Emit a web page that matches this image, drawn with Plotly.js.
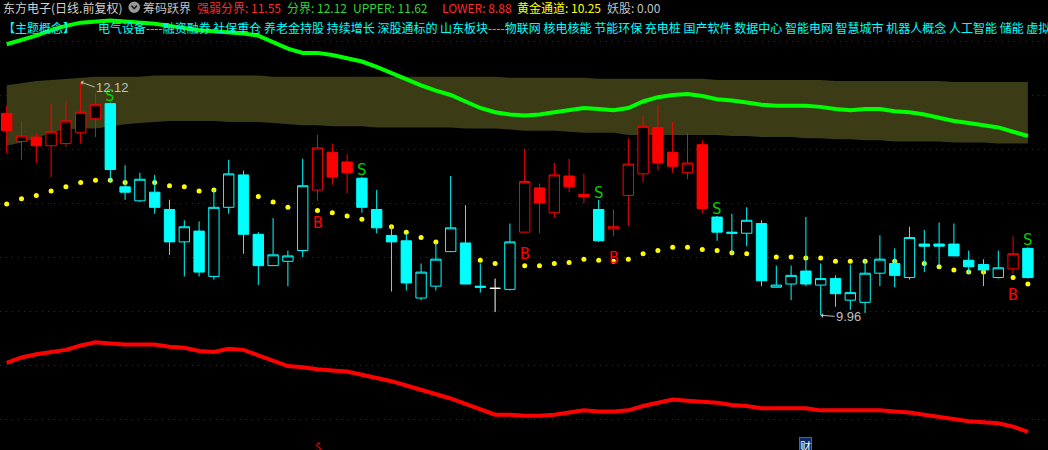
<!DOCTYPE html>
<html><head><meta charset="utf-8">
<script src="https://cdn.plot.ly/plotly-3.0.1.min.js"></script>
<style>html,body{margin:0;padding:0;background:#000;overflow:hidden}#chart{width:1048px;height:450px}</style>
</head><body><div id="chart"></div>
<script>
// ---- data ----
const openP = [11.83,11.57,11.61,11.53,11.55,11.65,11.78,11.92,11.15,11.02,
  11.10,10.94,10.64,10.74,10.32,10.96,11.26,10.71,10.42,10.46,
  10.56,11.12,11.47,11.38,11.23,10.94,10.70,10.65,10.12,10.23,
  10.55,10.63,10.23,10.21,10.20,10.73,11.14,10.91,11.25,11.08,
  10.94,10.76,11.07,11.27,11.70,11.47,11.28,11.54,10.87,10.73,
  10.72,10.81,10.22,10.25,10.37,10.24,10.30,10.10,10.08,10.35,
  10.44,10.31,10.62,10.62,10.62,10.47,10.43,10.31,10.39,10.58];
const highP = [11.90,11.76,11.64,11.92,11.94,12.12,12.02,11.93,11.35,11.28,
  11.26,11.03,10.84,10.83,11.12,11.40,11.30,10.73,10.86,10.56,
  11.41,11.63,11.55,11.45,11.24,11.12,10.79,10.72,10.44,10.63,
  11.25,10.98,10.44,10.30,10.81,11.50,11.18,11.37,11.41,11.27,
  11.03,10.94,11.60,11.81,11.91,11.75,11.65,11.58,10.88,10.90,
  10.96,10.84,10.42,10.42,10.87,10.44,10.33,10.43,10.47,10.70,
  10.58,10.78,10.75,10.82,10.81,10.56,10.48,10.56,10.69,10.59];
const lowP = [11.46,11.40,11.37,11.24,11.52,11.55,11.61,11.20,11.03,11.01,
  10.90,10.52,10.32,10.32,10.29,10.90,10.53,10.24,10.42,10.23,
  10.50,11.02,11.17,11.09,10.91,10.72,10.18,10.19,10.10,10.19,
  10.55,10.25,10.17,9.99,10.19,10.73,10.72,10.86,11.10,11.00,
  10.64,10.69,10.79,11.19,11.30,11.28,11.22,10.90,10.65,10.53,
  10.60,10.23,10.22,10.10,10.23,9.96,10.04,10.01,9.98,10.23,
  10.22,10.29,10.36,10.41,10.51,10.35,10.23,10.30,10.35,10.30];
const closeP = [11.67,11.62,11.53,11.66,11.76,11.84,11.91,11.31,11.10,11.22,
  10.96,10.64,10.78,10.36,10.96,11.27,10.71,10.42,10.52,10.51,
  11.16,11.51,11.24,11.28,10.96,10.77,10.64,10.26,10.36,10.48,
  10.77,10.25,10.22,10.21,10.64,11.20,11.00,11.26,11.15,11.06,
  10.65,10.78,11.36,11.71,11.37,11.34,11.37,10.95,10.73,10.72,
  10.84,10.28,10.24,10.33,10.25,10.30,10.16,10.17,10.35,10.48,
  10.33,10.68,10.60,10.60,10.51,10.41,10.38,10.40,10.53,10.31];
const goldLine = [10.99,11.04,11.07,11.11,11.15,11.19,11.21,11.21,11.19,11.19,
  11.19,11.16,11.15,11.11,11.12,11.10,11.08,11.06,11.01,10.96,
  10.94,10.93,10.91,10.88,10.85,10.82,10.78,10.73,10.68,10.64,
  10.58,10.53,10.47,10.44,10.43,10.42,10.42,10.44,10.45,10.48,
  10.47,10.46,10.48,10.53,10.56,10.59,10.59,10.57,10.56,10.54,
  10.53,10.51,10.50,10.50,10.49,10.49,10.46,10.46,10.46,10.46,
  10.46,10.45,10.44,10.41,10.38,10.36,10.36,10.33,10.31,10.25];
const upperLine = [12.47,12.51,12.55,12.60,12.64,12.67,12.68,12.69,12.68,12.67,
  12.66,12.64,12.62,12.60,12.59,12.58,12.57,12.55,12.49,12.43,
  12.39,12.39,12.37,12.34,12.31,12.26,12.20,12.14,12.09,12.04,
  12.00,11.94,11.88,11.84,11.82,11.81,11.82,11.84,11.86,11.88,
  11.87,11.86,11.88,11.94,11.98,12.00,12.01,11.99,11.96,11.95,
  11.93,11.91,11.90,11.90,11.90,11.89,11.87,11.86,11.87,11.87,
  11.85,11.84,11.82,11.79,11.76,11.74,11.72,11.70,11.66,11.62];
const lowerLine = [9.52,9.57,9.60,9.62,9.64,9.68,9.71,9.70,9.69,9.69,
  9.69,9.67,9.66,9.63,9.62,9.65,9.64,9.59,9.54,9.49,
  9.48,9.46,9.45,9.44,9.41,9.38,9.35,9.31,9.27,9.23,
  9.19,9.14,9.09,9.04,9.04,9.03,9.03,9.04,9.06,9.08,
  9.07,9.07,9.08,9.12,9.15,9.18,9.17,9.16,9.15,9.13,
  9.12,9.10,9.10,9.10,9.10,9.08,9.08,9.08,9.08,9.08,
  9.07,9.06,9.04,9.02,9.00,8.98,8.97,8.96,8.93,8.88];
const bandTop = [12.09,12.11,12.13,12.14,12.15,12.16,12.17,12.17,12.17,12.17,
  12.18,12.18,12.18,12.18,12.18,12.18,12.18,12.18,12.17,12.17,
  12.17,12.17,12.17,12.17,12.17,12.17,12.17,12.17,12.17,12.17,
  12.17,12.17,12.17,12.17,12.16,12.16,12.16,12.16,12.16,12.16,
  12.15,12.15,12.15,12.15,12.15,12.15,12.15,12.15,12.14,12.14,
  12.14,12.14,12.14,12.14,12.14,12.14,12.13,12.13,12.13,12.13,
  12.13,12.13,12.13,12.13,12.12,12.12,12.12,12.12,12.12,12.12];
const bandBottom = [11.53,11.56,11.60,11.65,11.68,11.69,11.69,11.71,11.73,11.74,
  11.75,11.76,11.76,11.76,11.76,11.75,11.75,11.75,11.74,11.73,
  11.72,11.72,11.71,11.71,11.71,11.70,11.70,11.70,11.70,11.70,
  11.70,11.69,11.69,11.69,11.68,11.67,11.67,11.67,11.66,11.65,
  11.65,11.65,11.63,11.63,11.63,11.63,11.63,11.63,11.63,11.62,
  11.62,11.61,11.61,11.61,11.60,11.60,11.59,11.59,11.58,11.58,
  11.57,11.57,11.57,11.57,11.56,11.56,11.56,11.55,11.55,11.55];
const buyIdx = [21, 35, 41, 68];
const sellIdx = [7, 24, 40, 48, 69];
const eventIdx = [21, 54];
const eventText = ['$', '财'];
const demonValue = 0.00;
const stockTitle = '东方电子(日线.前复权)';
const indicatorName = '筹码跃界';
const conceptTag = '【主题概念】';
const concepts = '电气设备----融资融券 社保重仓 养老金持股 持续增长 深股通标的 山东板块----物联网 核电核能 节能环保 充电桩 国产软件 数据中心 智能电网 智慧城市 机器人概念 人工智能 储能 虚拟电厂';

// ---- build ----
const n = openP.length;
const idx = openP.map((_, i) => i);
const state = [];
let cur = 'red';
for (let i = 0; i < n; i++) {
  if (buyIdx.includes(i)) cur = 'red';
  if (sellIdx.includes(i)) cur = 'cyan';
  state.push(cur);
}
const RED = '#ff0000', CYAN = '#00ffff', WHITE = '#ffffff';
function pick(arr, sel) { return sel.map(i => arr[i]); }
function candle(sel, col, incFill, decFill) {
  return {
    type: 'candlestick', xaxis: 'x', yaxis: 'y2',
    x: sel, open: pick(openP, sel), high: pick(highP, sel), low: pick(lowP, sel), close: pick(closeP, sel),
    increasing: {line: {color: col, width: 1}, fillcolor: incFill},
    decreasing: {line: {color: col, width: 1}, fillcolor: decFill},
    whiskerwidth: 0, hoverinfo: 'skip', showlegend: false
  };
}
const redSel = idx.filter(i => state[i] === 'red' && openP[i] !== closeP[i]);
const cyanSel = idx.filter(i => state[i] === 'cyan' && openP[i] !== closeP[i]);
const flatSel = idx.filter(i => openP[i] === closeP[i]);

const traces = [
  {x: idx, y: bandBottom, mode: 'lines', line: {width: 0, color: 'rgba(0,0,0,0)'}, hoverinfo: 'skip'},
  {x: idx, y: bandTop, mode: 'lines', line: {width: 0, color: 'rgba(0,0,0,0)'}, fill: 'tonexty', fillcolor: '#3b3b16', hoverinfo: 'skip'},
  {x: idx, y: lowerLine, mode: 'lines', line: {width: 4, color: '#ff0000'}, hoverinfo: 'skip'},
  {x: idx, y: upperLine, mode: 'lines', line: {width: 4, color: '#00ff00'}, hoverinfo: 'skip'},
  {x: idx, y: goldLine, mode: 'markers', marker: {size: 5, color: '#ffff00'}, hoverinfo: 'skip'},
  candle(redSel, RED, '#000000', RED),
  candle(cyanSel, CYAN, '#000000', CYAN),
  candle(flatSel, WHITE, WHITE, WHITE)
];

const W = 1048, H = 450;
const px = x => x / W, py = y => 1 - y / H;
const hdrFont = (c) => ({family: 'Noto Sans CJK SC', size: 12, color: c});
function hdr(x, y, text, color) {
  return {xref: 'paper', yref: 'paper', x: px(x), y: py(y), xanchor: 'left', yanchor: 'middle',
    text: text, showarrow: false, font: hdrFont(color), borderpad: 0};
}
const last = n - 1;
const annotations = [
  hdr(2, 7.5, stockTitle, '#d0d0d0'),
  hdr(142, 7.5, indicatorName, '#c0c0c0'),
  hdr(196, 7.5, '强弱分界: ' + bandBottom[last].toFixed(2), '#ff2a2a'),
  hdr(286, 7.5, '分界: ' + bandTop[last].toFixed(2), '#30d830'),
  hdr(352, 7.5, 'UPPER: ' + upperLine[last].toFixed(2), '#30d830'),
  hdr(441, 7.5, 'LOWER: ' + lowerLine[last].toFixed(2), '#ff2a2a'),
  hdr(516, 7.5, '黄金通道: ' + goldLine[last].toFixed(2), '#ffff00'),
  hdr(606, 7.5, '妖股: ' + demonValue.toFixed(2), '#c0c0c0'),
  hdr(2, 27, conceptTag, '#00ffff'),
  hdr(97, 27, concepts, '#00ffff')
];
sellIdx.forEach(i => annotations.push({x: i, y: highP[i], xref: 'x', yref: 'y', text: 'S', showarrow: false,
  yanchor: 'bottom', yshift: -4, font: {family: 'DejaVu Sans Mono', size: 16, color: '#00d000'}}));
buyIdx.forEach(i => annotations.push({x: i, y: lowP[i], xref: 'x', yref: 'y', text: 'B', showarrow: false,
  yanchor: 'top', yshift: -10, font: {family: 'DejaVu Sans Mono', size: 16, color: '#ff0000'}}));
const maxH = Math.max(...highP), iMax = highP.indexOf(maxH);
const minL = Math.min(...lowP), iMin = lowP.indexOf(minL);
[[iMax, maxH, 14, 5], [iMin, minL, 14, 1]].forEach(([i, v, ax, ay]) => annotations.push({
  x: i, y: v, xref: 'x', yref: 'y', text: v.toFixed(2), showarrow: true, ax: ax, ay: ay,
  xanchor: 'left', yanchor: 'middle', arrowhead: 1, arrowsize: 0.8, arrowwidth: 1, arrowcolor: '#c0c0c0',
  standoff: 0, font: {family: 'Liberation Sans', size: 13, color: '#c0c0c0'}, borderpad: 0}));
eventIdx.forEach((i, k) => annotations.push({
  x: i, xref: 'x', yref: 'paper', y: py(437), yanchor: 'top', text: eventText[k], showarrow: false,
  font: {family: 'Noto Sans CJK SC', size: 11, color: eventText[k] === '$' ? '#ff0000' : '#ffffff'},
  bgcolor: eventText[k] === '$' ? 'rgba(0,0,0,0)' : '#0b2a6b',
  bordercolor: eventText[k] === '$' ? 'rgba(0,0,0,0)' : '#3a6ab0', borderwidth: 1, borderpad: 0
}));

const shapes = [
  {type: 'circle', xref: 'paper', yref: 'paper', x0: px(128.4), x1: px(140), y0: py(12.9), y1: py(1.5),
    fillcolor: '#9a9a9a', line: {width: 0}},
  {type: 'path', xref: 'paper', yref: 'paper',
    path: 'M ' + px(131.4) + ' ' + py(5.6) + ' L ' + px(134.2) + ' ' + py(8.6) + ' L ' + px(137) + ' ' + py(5.6),
    line: {color: '#202020', width: 1.6}}
];

const yr = [8.713, 12.8796];
const layout = {
  width: W, height: H, margin: {l: 0, r: 0, t: 0, b: 0, pad: 0},
  paper_bgcolor: '#000000', plot_bgcolor: '#000000', showlegend: false,
  boxgap: 0, boxgroupgap: 0.3,
  xaxis: {range: [-0.4527, 70.3581], visible: false, showgrid: false, zeroline: false, rangeslider: {visible: false}, fixedrange: true},
  yaxis: {range: yr, showgrid: true, gridcolor: '#9a0000', gridwidth: 1, griddash: '1px,5px', dtick: 0.5, tick0: 0,
    showticklabels: false, ticks: '', zeroline: false, showline: false, fixedrange: true},
  yaxis2: {range: yr, overlaying: 'y', visible: false, showgrid: false, zeroline: false, fixedrange: true},
  annotations: annotations, shapes: shapes
};
Plotly.newPlot('chart', traces, layout, {displayModeBar: false, staticPlot: true});
</script></body></html>
